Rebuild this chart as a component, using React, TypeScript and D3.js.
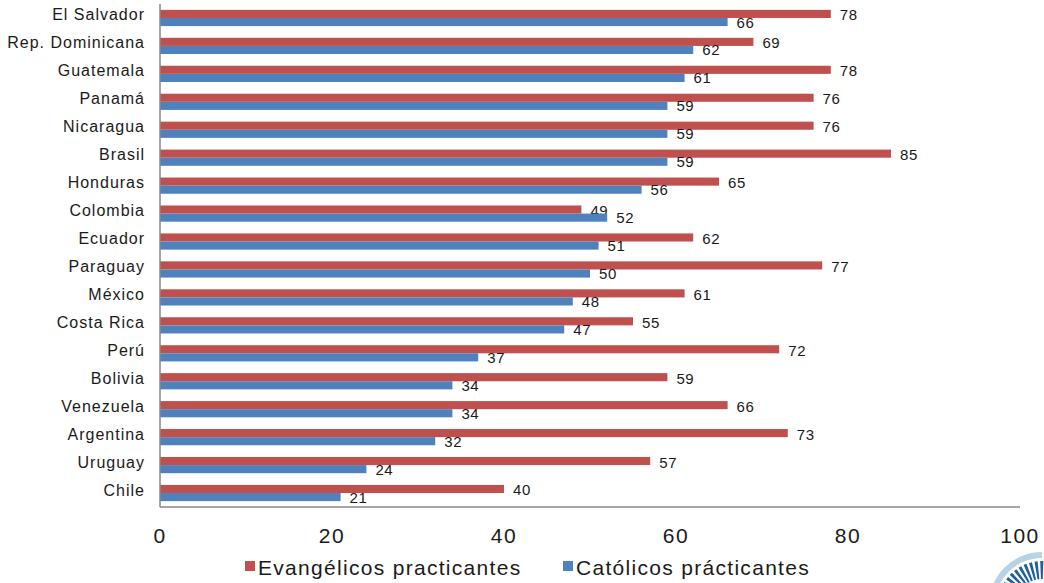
import React, { useEffect, useRef } from 'react';
import * as d3 from 'd3';

const countries = [
  'El Salvador', 'Rep. Dominicana', 'Guatemala', 'Panamá', 'Nicaragua', 'Brasil',
  'Honduras', 'Colombia', 'Ecuador', 'Paraguay', 'México', 'Costa Rica', 'Perú',
  'Bolivia', 'Venezuela', 'Argentina', 'Uruguay', 'Chile',
];
const evangelicos = [78, 69, 78, 76, 76, 85, 65, 49, 62, 77, 61, 55, 72, 59, 66, 73, 57, 40];
const catolicos = [66, 62, 61, 59, 59, 59, 56, 52, 51, 50, 48, 47, 37, 34, 34, 32, 24, 21];
const xTicks = [0, 20, 40, 60, 80, 100];
const seriesNames = ['Evangélicos practicantes', 'Católicos prácticantes'];

const RED = '#C0504D';
const BLUE = '#4F81BD';
const FONT = '"Liberation Sans", Arial, sans-serif';

const App = () => {
  const svgRef = useRef<SVGSVGElement | null>(null);

  const width = 1044;
  const height = 583;
  const margin = { top: 4, right: 24, bottom: 76, left: 160 };

  useEffect(() => {
    if (!svgRef.current) return;
    const svg = d3.select(svgRef.current);
    svg.selectAll('*').remove();

    const plotW = width - margin.left - margin.right;
    const plotH = height - margin.top - margin.bottom;

    const chart = svg.append('g').attr('transform', `translate(${margin.left},${margin.top})`);

    const x = d3.scaleLinear().domain([0, 100]).range([0, plotW]);
    const y = d3.scaleBand().domain(countries).range([0, plotH]).paddingInner(0.42).paddingOuter(0.21);
    const sub = d3.scaleBand().domain(['e', 'c']).range([0, y.bandwidth()]);

    // bars
    const rows = chart
      .selectAll('g.row')
      .data(countries)
      .enter()
      .append('g')
      .attr('class', 'row')
      .attr('transform', (d) => `translate(0,${y(d)})`);

    rows.each(function (d, i) {
      const g = d3.select(this);
      const items = [
        { key: 'e', v: evangelicos[i], color: RED, dy: 1 },
        { key: 'c', v: catolicos[i], color: BLUE, dy: 0 },
      ];
      items.forEach((it) => {
        g.append('rect')
          .attr('x', 0)
          .attr('y', sub(it.key)!)
          .attr('width', x(it.v))
          .attr('height', sub.bandwidth())
          .attr('fill', it.color);
        g.append('text')
          .attr('x', x(it.v) + 9)
          .attr('y', sub(it.key)! + sub.bandwidth() / 2 + it.dy)
          .attr('dominant-baseline', 'central')
          .attr('font-family', FONT)
          .attr('font-size', 15)
          .attr('letter-spacing', 0.6)
          .attr('fill', '#1a1a1a')
          .text(it.v);
      });
    });

    // category labels
    chart
      .selectAll('text.cat')
      .data(countries)
      .enter()
      .append('text')
      .attr('class', 'cat')
      .attr('x', -15)
      .attr('y', (d) => y(d)! + y.bandwidth() / 2 - 3)
      .attr('text-anchor', 'end')
      .attr('dominant-baseline', 'central')
      .attr('font-family', FONT)
      .attr('font-size', 16)
      .attr('letter-spacing', 1)
      .attr('fill', '#1a1a1a')
      .text((d) => d);

    // axis lines
    chart.append('line').attr('x1', 0).attr('x2', 0).attr('y1', 0).attr('y2', plotH)
      .attr('stroke', '#898989').attr('stroke-width', 1.5);
    chart.append('line').attr('x1', 0).attr('x2', plotW).attr('y1', plotH).attr('y2', plotH)
      .attr('stroke', '#898989').attr('stroke-width', 1.5);

    // x tick labels
    chart
      .selectAll('text.tick')
      .data(xTicks)
      .enter()
      .append('text')
      .attr('class', 'tick')
      .attr('x', (d) => x(d))
      .attr('y', plotH + 36)
      .attr('text-anchor', 'middle')
      .attr('font-family', FONT)
      .attr('font-size', 21)
      .attr('letter-spacing', 1.5)
      .attr('fill', '#1a1a1a')
      .text((d) => d);

    // legend
    const legend = svg.append('g').attr('transform', `translate(245,${height - 16})`);
    const legendX = [0, 318];
    seriesNames.forEach((name, i) => {
      const lg = legend.append('g').attr('transform', `translate(${legendX[i]},0)`);
      lg.append('rect').attr('x', 0).attr('y', -6).attr('width', 10).attr('height', 10)
        .attr('fill', i === 0 ? RED : BLUE);
      lg.append('text')
        .attr('x', 13)
        .attr('y', 0)
        .attr('dominant-baseline', 'central')
        .attr('font-family', FONT)
        .attr('font-size', 21)
        .attr('letter-spacing', 1.3)
        .attr('fill', '#1a1a1a')
        .text(name);
    });

    // small logo bottom right
    const logo = svg.append('g').attr('transform', `translate(1042,${height + 22})`);
    const arc = d3.arc<number>()
      .innerRadius(26)
      .outerRadius(44)
      .startAngle((d) => -Math.PI / 2 + 0.1 + d * 0.13)
      .endAngle((d) => -Math.PI / 2 + 0.1 + d * 0.13 + 0.07);
    logo.selectAll('path.stripe')
      .data(d3.range(0, 12))
      .enter()
      .append('path')
      .attr('class', 'stripe')
      .attr('d', arc)
      .attr('fill', (d) => (d < 4 ? '#2aa6d8' : '#1f5f9e'));
    logo.append('path')
      .attr('d', d3.arc()({ innerRadius: 47, outerRadius: 53, startAngle: -Math.PI / 2, endAngle: 0 }) as string)
      .attr('fill', '#b9d3e6');
  }, []);

  return (
    <div style={{ position: 'absolute', top: 0, left: 0 }}>
      <svg ref={svgRef} width={width} height={height} style={{ display: 'block', background: '#fff' }} />
    </div>
  );
};

export default App;
